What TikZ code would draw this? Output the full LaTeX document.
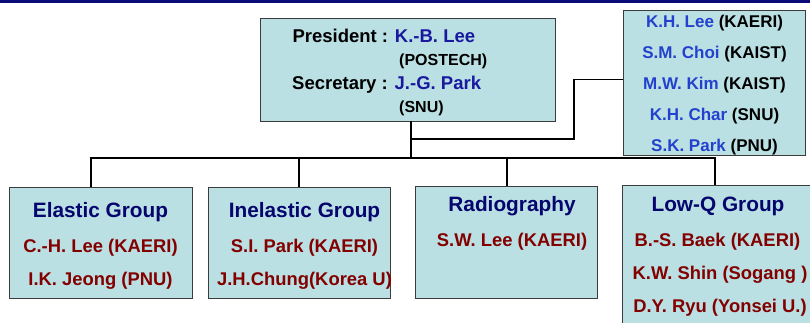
\documentclass[tikz,border=0pt]{standalone}
\usepackage{fontspec}
\setmainfont{Liberation Sans}
\usepackage{xcolor}
\definecolor{boxfill}{RGB}{187,224,227}
\definecolor{boxline}{RGB}{60,60,60}
\definecolor{navytitle}{RGB}{5,5,110}
\definecolor{chairblue}{RGB}{25,25,160}
\definecolor{advblue}{RGB}{35,65,205}
\definecolor{memberred}{RGB}{130,0,0}
\definecolor{topband}{RGB}{10,10,120}
\tikzset{
  box/.style={draw=boxline, fill=boxfill, line width=0.8pt, inner sep=0, outer sep=0},
  link/.style={line width=1.3pt},
  bus/.style={line width=2.2pt},
  grptitle/.style={font=\fontsize{20.8}{25}\selectfont\bfseries, text=navytitle, inner sep=0, anchor=base},
  member/.style={font=\fontsize{18.4}{22}\selectfont\bfseries, text=memberred, inner sep=0, anchor=base},
  adviser/.style={font=\fontsize{17}{20}\selectfont\bfseries, inner sep=0, anchor=base},
  officer/.style={font=\fontsize{18.5}{22}\selectfont\bfseries, inner sep=0, anchor=base west},
  affil/.style={font=\fontsize{16}{19}\selectfont\bfseries, inner sep=0, anchor=base west}
}

\begin{document}
\begin{tikzpicture}[x=1pt, y=-1pt]
  \clip (0,0) rectangle (810,322);
  \fill[topband] (0,0) rectangle (810,2.5);

  % boxes
  \node[box, minimum width=295, minimum height=103] (board) at (407.5,69.5) {};
  \node[box, minimum width=182, minimum height=145] (committee) at (714,82.5) {};
  \node[box, minimum width=183, minimum height=111] (elastic) at (100.5,242.5) {};
  \node[box, minimum width=182, minimum height=111] (inelastic) at (299,242.5) {};
  \node[box, minimum width=182, minimum height=112] (radio) at (506,242) {};
  \node[box, minimum width=190, minimum height=145] (lowq) at (717,257.5) {};

  % connectors
  \coordinate (bus) at (0,158);
  \coordinate (jog) at (574,139);
  \coordinate (stem) at ([xshift=3.5pt]board.south);
  \draw[link] (stem) -- (stem |- bus);
  \draw[link] ([yshift=3pt]committee.west) -| (jog) -- (jog -| stem);
  \draw[bus] ([xshift=-9.5pt]elastic.north) -- ([xshift=-9.5pt]elastic.north |- bus)
    -- ([xshift=-2pt]lowq.north |- bus) -- ([xshift=-2pt]lowq.north);
  \draw[bus] (inelastic.north) -- (inelastic.north |- bus);
  \draw[bus] ([xshift=1pt]radio.north) -- ([xshift=1pt]radio.north |- bus);

  % board
  \node[officer] (pres) at (292.3,42.3) {President : \textcolor{chairblue}{K.-B. Lee}};
  \node[affil] (presaff) at (399,65.7) {(POSTECH)};
  \node[officer] (secr) at (292,89) {Secretary : \textcolor{chairblue}{J.-G. Park}};
  \node[affil] (secraff) at (399,112.3) {(SNU)};

  % committee
  \node[adviser] (adv1) at (714.5,27.7) {\textcolor{advblue}{K.H. Lee} (KAERI)};
  \node[adviser] (adv2) at (714.5,58.5) {\textcolor{advblue}{S.M. Choi} (KAIST)};
  \node[adviser] (adv3) at (714.5,89.5) {\textcolor{advblue}{M.W. Kim} (KAIST)};
  \node[adviser] (adv4) at (714.5,120.5) {\textcolor{advblue}{K.H. Char} (SNU)};
  \node[adviser] (adv5) at (714.5,151.5) {\textcolor{advblue}{S.K. Park} (PNU)};

  % groups
  \node[grptitle] (elt) at (100.5,217.7) {Elastic Group};
  \node[member] (el1) at (100.5,252) {C.-H. Lee (KAERI)};
  \node[member] (el2) at (100.5,285.7) {I.K. Jeong (PNU)};

  \node[grptitle] (int) at (304.5,217.7) {Inelastic Group};
  \node[member] (in1) at (304.5,252) {S.I. Park (KAERI)};
  \node[member] (in2) at (304.5,285.7) {J.H.Chung(Korea U)};

  \node[grptitle] (rat) at (512,211.7) {Radiography};
  \node[member] (ra1) at (512,246) {S.W. Lee (KAERI)};

  \node[grptitle] (lqt) at (718,211.7) {Low-Q Group};
  \node[member] (lq1) at (717.5,246) {B.-S. Baek (KAERI)};
  \node[member] (lq2) at (720,279) {K.W. Shin (Sogang )};
  \node[member] (lq3) at (720,312.7) {D.Y. Ryu (Yonsei U.)};
\end{tikzpicture}
\end{document}
